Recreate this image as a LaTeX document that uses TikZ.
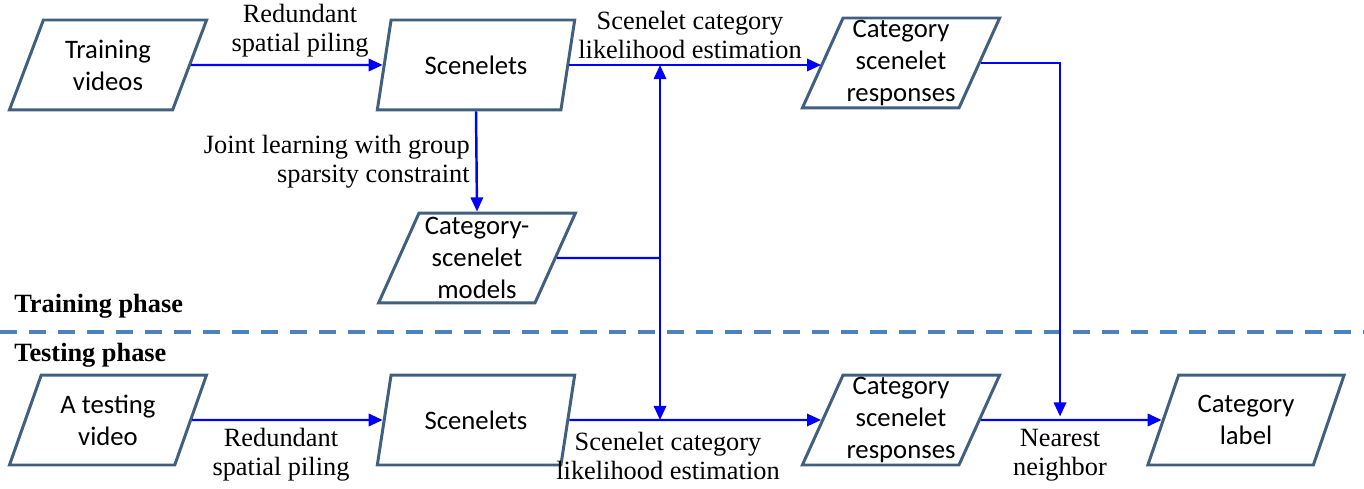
\documentclass[tikz,border=0pt]{standalone}
\usepackage{fontspec}
\setmainfont{Liberation Serif}
\newfontfamily\boxfont{Carlito}
\usetikzlibrary{shapes.geometric,arrows.meta}
\definecolor{vframe}{HTML}{41607F}
\definecolor{vflow}{HTML}{0000FF}
\definecolor{vdash}{HTML}{4F81BD}

\begin{document}
\begin{tikzpicture}[x=0.02cm, y=-0.02cm,
		data/.style = {trapezium, trapezium left angle=66, trapezium right angle=114,
			trapezium stretches=true, minimum width=3.95cm, minimum height=1.8cm,
			draw=vframe, line width=1.7pt, align=center, inner sep=0pt,
			font=\boxfont\fontsize{15.2}{18.3}\selectfont},
		lbl/.style = {align=center, inner sep=0pt, font=\fontsize{15}{16.5}\selectfont},
		phase/.style = {anchor=west, inner sep=0pt, font=\fontsize{15}{16.5}\selectfont\bfseries},
		flow/.style = {draw=vflow, line width=1.4pt, -{Triangle[length=8pt, width=7pt]}},
		link/.style = {draw=vflow, line width=1.4pt}]
		\useasboundingbox (0,0) rectangle (1364,489);
		% training row
		\node[data] (train) at (108,65) {Training\\videos};
		\node[data] (scen1) at (476,65) {Scenelets};
		\node[data] (resp1) at (901,63) {Category\\scenelet\\responses};
		\node[data] (models) at (477,258) {Category-\\scenelet\\models};
		% testing row
		\node[data] (test) at (108,420) {A testing\\video};
		\node[data] (scen2) at (476,420) {Scenelets};
		\node[data] (resp2) at (901,420) {Category\\scenelet\\responses};
		\node[data] (catlabel) at (1246,420) {Category\\label};
		% phases
		\draw[vdash, line width=2.3pt, dash pattern=on 0.34cm off 0.24cm] (0,332) -- (1364,332);
		\node[phase] (trainphase) at (14,306) {Training phase};
		\node[phase] (testphase) at (14,355) {Testing phase};
		% junctions
		\coordinate (j) at (660,258);
		\coordinate (nn) at (1060,420);
		% connectors
		\draw[flow] (train.east) -- (scen1.west);
		\draw[flow] (scen1.east) -- (resp1.west |- scen1.east);
		\draw[flow] (scen1.south) -- (models.north);
		\draw[link] (models.east) -- (j);
		\draw[flow] (j) -- (j |- scen1.east);
		\draw[flow] (j) -- (j |- scen2.east);
		\draw[flow, shorten >=2pt] (resp1.east) -| (nn);
		\draw[flow] (test.east) -- (scen2.west);
		\draw[flow] (scen2.east) -- (resp2.west);
		\draw[flow] (resp2.east) -- (catlabel.west);
		% labels
		\node[lbl] (pile1) at (300,31) {Redundant\\spatial piling};
		\node[lbl] (est1) at (690,35) {Scenelet category\\likelihood estimation};
		\node[lbl, anchor=east, align=right] (joint) at (470,162) {Joint learning with group\\sparsity constraint};
		\node[lbl] (pile2) at (281,455) {Redundant\\spatial piling};
		\node[lbl] (est2) at (668,456) {Scenelet category\\likelihood estimation};
		\node[lbl] (near) at (1060,455) {Nearest\\neighbor};
	\end{tikzpicture}
\end{document}
